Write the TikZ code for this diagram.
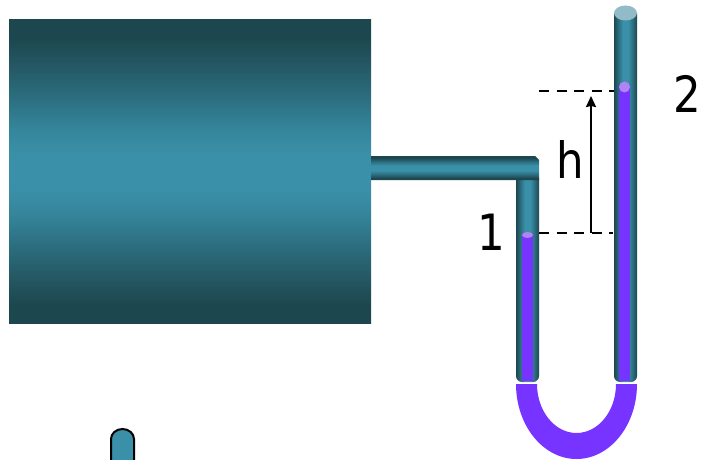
\documentclass[tikz,border=0pt]{standalone}
\usepackage{fontspec}
\setmainfont{DejaVu Sans}
\usetikzlibrary{arrows.meta}
\definecolor{tealdark}{HTML}{1D474F}
\definecolor{tealmid}{HTML}{2C6F80}
\definecolor{teallight}{HTML}{3A90A8}
\definecolor{tealdeep}{HTML}{255A66}
\definecolor{tealsoft}{HTML}{35859B}
\definecolor{liquid}{HTML}{7733FF}
\definecolor{liquidtop}{HTML}{B084F5}
\pgfdeclareverticalshading{boxshade}{100bp}{
  color(0bp)=(tealdark); color(25bp)=(tealdark); color(28bp)=(tealdark); color(33bp)=(tealdeep); color(38bp)=(tealmid); color(43bp)=(tealsoft); color(47bp)=(teallight);
  color(50bp)=(teallight); color(53bp)=(teallight); color(57bp)=(tealsoft); color(62bp)=(tealmid); color(67bp)=(tealdeep); color(72bp)=(tealdark); color(75bp)=(tealdark); color(100bp)=(tealdark)}
\pgfdeclarehorizontalshading{tubeshade}{100bp}{
  color(0bp)=(tealdark); color(25bp)=(tealdark); color(35bp)=(tealmid); color(44bp)=(teallight);
  color(56bp)=(teallight); color(65bp)=(tealmid); color(75bp)=(tealdark); color(100bp)=(tealdark)}
\pgfdeclareverticalshading{pipeshade}{100bp}{
  color(0bp)=(tealdark); color(25bp)=(tealdark); color(29bp)=(tealdark); color(37bp)=(tealmid); color(45bp)=(teallight);
  color(55bp)=(teallight); color(63bp)=(tealmid); color(71bp)=(tealdark); color(75bp)=(tealdark); color(100bp)=(tealdark)}
\tikzset{
  tubebody/.style={shading=tubeshade},
  liquidfill/.style={fill=liquid,draw=none},
  dashline/.style={draw=black,line width=2pt,dash pattern=on 10pt off 7.5pt},
  measure/.style={draw=black,line width=2pt,-{Stealth[length=11pt,width=10pt,inset=1pt]}},
  bigtext/.style={font=\fontsize{50}{50}\selectfont,inner sep=0pt,text=black,xscale=0.87}
}
\begin{document}
\begin{tikzpicture}[x=1pt,y=-1pt]
\useasboundingbox (0,0) rectangle (702,460);
% vessel
\shade[shading=boxshade] (9,20) rectangle (371,323);
% left tube
\path[tubebody] (516,178) -- (539,178) -- (539,376) arc[start angle=0,end angle=90,x radius=6,y radius=6] -- (522,382) arc[start angle=90,end angle=180,x radius=6,y radius=6] -- cycle;
% horizontal pipe
\shade[shading=pipeshade] (371,156) -- (535,156) -- (539,160) -- (539,180) -- (371,180) -- cycle;
% right tube
\path[tubebody] (614,13) -- (637,13) -- (637,376) arc[start angle=0,end angle=90,x radius=6,y radius=6] -- (620,382) arc[start angle=90,end angle=180,x radius=6,y radius=6] -- cycle;
\fill[fill=teallight!55!white!90!gray] (625.5,13) ellipse[x radius=11.5,y radius=7.5];
% liquid columns
\fill[liquidfill] (522,235) rectangle (533,381);
\fill[liquidtop] (527.5,235) ellipse[x radius=5.5,y radius=3];
\fill[liquidfill] (619,87) rectangle (630,381);
\fill[liquidtop] (624.5,87) circle[radius=5.5];
% U bend
\fill[liquidfill] (516,384) arc[start angle=180,end angle=0,x radius=60.5,y radius=75] -- (616,384) arc[start angle=0,end angle=180,x radius=39.5,y radius=49] -- cycle;
% measurement
\coordinate (upL) at (539,91);
\coordinate (upR) at (614,91);
\coordinate (loL) at (539,233);
\coordinate (loR) at (613,233);
\coordinate (aS) at (591,233);
\coordinate (aE) at (591,96);
\draw[dashline] (upL) -- (upR);
\draw[dashline] (loL) -- (loR);
\draw[measure] (aS) -- (aE);
\node[bigtext] (labh) at (570.5,160) {h};
\node[bigtext] (lab1) at (491,232) {1};
\node[bigtext] (lab2) at (687,94) {2};
% small stub
\draw[fill=teallight,draw=black,line width=2pt] (111,461) -- (111,439) arc[start angle=180,end angle=360,x radius=11.5,y radius=10] -- (134,461);
\end{tikzpicture}
\end{document}
